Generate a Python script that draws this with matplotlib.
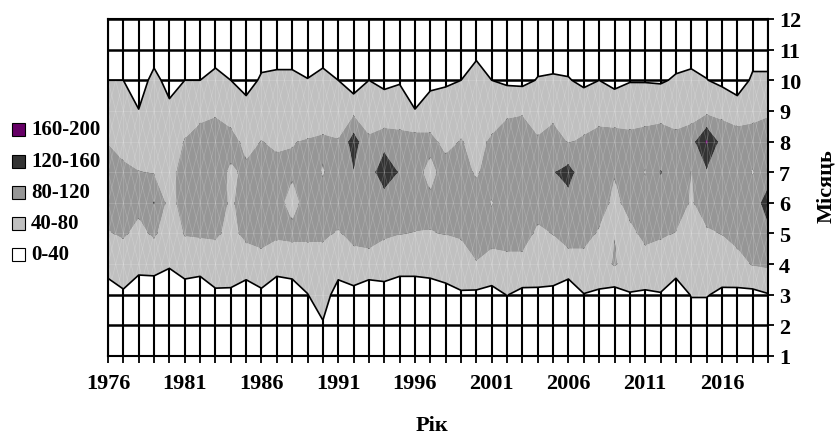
import numpy as np
import matplotlib
matplotlib.use("Agg")
import matplotlib.pyplot as plt
from matplotlib.collections import LineCollection
from matplotlib.patches import Rectangle

# ---------------- data ----------------
years = list(range(1976, 2020))
months = [1, 2, 3, 4, 5, 6, 7, 8, 9, 10, 11, 12]
year_labels = ["1976", "1981", "1986", "1991", "1996", "2001", "2006", "2011", "2016"]
label_years = [1976, 1981, 1986, 1991, 1996, 2001, 2006, 2011, 2016]

jan = [12, 14, 10, 15, 13, 12, 14, 11, 13, 12, 14, 12, 13, 15, 14, 12, 13, 12, 14, 11, 13, 12,
       14, 13, 12, 14, 13, 12, 15, 13, 12, 14, 13, 14, 12, 13, 14, 12, 15, 13, 14, 12, 14, 13]
feb = [18, 22, 16, 19, 14, 21, 17, 24, 20, 18, 23, 15, 19, 26, 36, 20, 22, 17, 21, 16, 18, 19,
       23, 25, 21, 20, 20, 22, 19, 21, 17, 24, 22, 18, 26, 23, 25, 16, 20, 20, 21, 22, 19, 24]
mar = [17, 35, 13, 16, 9, 19, 13, 34, 34, 19, 33, 13, 19, 39, 60, 21, 30, 19, 25, 16, 16, 19,
       29, 36, 33, 29, 41, 31, 33, 31, 19, 39, 35, 25, 38, 35, 38, 19, 42, 42, 33, 32, 30, 38]
apr = [60, 62, 55, 55, 45, 60, 58, 62, 60, 62, 66, 58, 60, 65, 65, 60, 64, 62, 60, 56, 56, 58,
       58, 64, 78, 66, 70, 70, 62, 62, 60, 66, 62, 84, 62, 66, 64, 58, 60, 62, 62, 66, 83, 87]
may = [78, 84, 72, 85, 62, 82, 84, 85, 72, 88, 94, 86, 88, 86, 86, 77, 91, 98, 85, 81, 79, 79,
       81, 84, 98, 94, 95, 95, 74, 81, 100, 94, 76, 79, 72, 89, 84, 79, 75, 76, 81, 94, 95, 110]
jun = [95, 95, 88, 122, 66, 98, 100, 100, 75, 96, 100, 90, 70, 92, 90, 100, 105, 95, 91, 96, 95, 87,
       96, 96, 96, 78, 100, 102, 94, 100, 105, 98, 96, 72, 92, 95, 98, 98, 77, 96, 98, 100, 98, 140]
jul = [103, 86, 81, 78, 65, 100, 105, 98, 74, 87, 98, 95, 84, 95, 78, 98, 118, 95, 155, 116, 92, 70,
       95, 94, 76, 96, 100, 100, 100, 118, 135, 96, 100, 82, 100, 78, 122, 102, 79, 115, 100, 98, 78, 100]
aug = [78, 70, 62, 65, 60, 82, 92, 96, 94, 70, 81, 72, 79, 82, 85, 82, 140, 85, 101, 89, 97, 90,
       70, 82, 70, 85, 98, 103, 84, 95, 78, 85, 94, 95, 89, 95, 95, 89, 105, 165, 105, 100, 95, 96]
sep = [60, 55, 41, 55, 48, 62, 72, 76, 63, 55, 62, 60, 62, 62, 64, 62, 70, 64, 54, 66, 41, 57,
       58, 62, 65, 64, 74, 76, 64, 70, 62, 62, 66, 62, 66, 65, 70, 66, 62, 70, 70, 60, 70, 76]
oct_ = [40, 40, 24, 50, 28, 40, 40, 50, 40, 25, 45, 48, 48, 41, 50, 40, 16, 40, 34, 36, 24, 31,
        35, 40, 67, 40, 33, 31, 42, 44, 42, 33, 40, 31, 38, 38, 36, 44, 49, 41, 32, 20, 46, 46]
nov = [27, 23, 28, 25, 21, 26, 24, 25, 28, 22, 25, 25, 25, 25, 25, 27, 19, 26, 23, 27, 21, 24,
       28, 26, 25, 29, 22, 27, 25, 25, 25, 23, 27, 22, 26, 24, 28, 25, 25, 25, 23, 18, 25, 25]
dec = [15, 16, 14, 15, 14, 15, 16, 15, 14, 15, 16, 15, 14, 16, 15, 14, 15, 16, 15, 14, 15, 14,
       16, 15, 15, 16, 15, 14, 16, 15, 14, 16, 15, 16, 15, 14, 15, 16, 15, 14, 16, 15, 16, 15]

levels = [40, 80, 120, 160, 200]
band_colors = ["#C0C0C0", "#969696", "#333333", "#660066"]
legend_labels = ["160-200", "120-160", "80-120", "40-80", "0-40"]
legend_colors = ["#660066", "#333333", "#969696", "#C0C0C0", "#FFFFFF"]

# ---------------- figure ----------------
W, H = 836, 439
fig = plt.figure(figsize=(W / 100, H / 100), dpi=100)
ax = fig.add_axes([108 / W, 82 / H, 660 / W, 337 / H])

font = "Liberation Serif"
plt.rcParams["font.family"] = [font, "DejaVu Serif"]

Z = np.array([jan, feb, mar, apr, may, jun, jul, aug, sep, oct_, nov, dec], dtype=float)
X, Y = np.meshgrid(years, months)

# black grid behind the surface
for yv in years:
    ax.axvline(yv, color="black", lw=1.5, zorder=0.5)
for mv in months:
    ax.axhline(mv, color="black", lw=1.8, zorder=0.5)

cf = ax.contourf(X, Y, Z, levels=levels, colors=band_colors, zorder=2, antialiased=True)
ax.contour(X, Y, Z, levels=[40], colors="black", linewidths=1.2, zorder=4)

# clip region (surface above 40) for faint mesh lines
cs_clip = ax.contourf(X, Y, Z, levels=[40, 1000], colors=["white"], alpha=0.0, zorder=1)
clip_path = cs_clip.get_paths()[0]

segs = []
for yv in years:
    segs.append([(yv, months[0]), (yv, months[-1])])
for mv in months:
    segs.append([(years[0], mv), (years[-1], mv)])
for i in range(len(years) - 1):
    x0, x1 = years[i], years[i + 1]
    xm = 0.5 * (x0 + x1)
    for j in range(len(months) - 1):
        m0, m1 = months[j], months[j + 1]
        segs.append([(x0, m0), (xm, m1)])
        segs.append([(xm, m1), (x1, m0)])
        segs.append([(x0, m1), (xm, m0)])
        segs.append([(xm, m0), (x1, m1)])
mesh = LineCollection(segs, colors="white", linewidths=0.5, alpha=0.2, zorder=3)
ax.add_collection(mesh)
mesh.set_clip_path(clip_path, ax.transData)

ax.set_xlim(years[0], years[-1])
ax.set_ylim(months[0], months[-1])

for s in ax.spines.values():
    s.set_color("black")
    s.set_linewidth(1.5)
    s.set_zorder(5)

ax.yaxis.tick_right()
ax.set_yticks(months)
ax.set_yticklabels([str(m) for m in months], fontfamily=font, fontweight="bold", fontsize=16)
ax.set_xticks(label_years)
ax.set_xticklabels(year_labels, fontfamily=font, fontweight="bold", fontsize=16)
ax.set_xticks(years, minor=True)
ax.tick_params(axis="x", which="both", direction="out", length=5, width=1.3, pad=7, colors="black")
ax.tick_params(axis="y", which="both", direction="out", length=4, width=1.3, pad=4, colors="black")

fig.text(432 / W, 1 - 426 / H, "Рік", ha="center", va="center",
         fontfamily=font, fontweight="bold", fontsize=16)
fig.text(826 / W, 1 - 186 / H, "Місяць", ha="center", va="center", rotation=90,
         fontfamily=font, fontweight="bold", fontsize=16)

# legend (left)
ycent = [130, 162, 193, 224, 255]
for lab, col, yc in zip(legend_labels, legend_colors, ycent):
    fig.patches.append(Rectangle((12 / W, 1 - (yc + 6.5) / H), 13 / W, 13 / H,
                                 transform=fig.transFigure, facecolor=col,
                                 edgecolor="black", linewidth=0.8))
    fig.text(31 / W, 1 - yc / H, lab, ha="left", va="center",
             fontfamily=font, fontweight="bold", fontsize=15)

fig.savefig("out.png", dpi=100)
